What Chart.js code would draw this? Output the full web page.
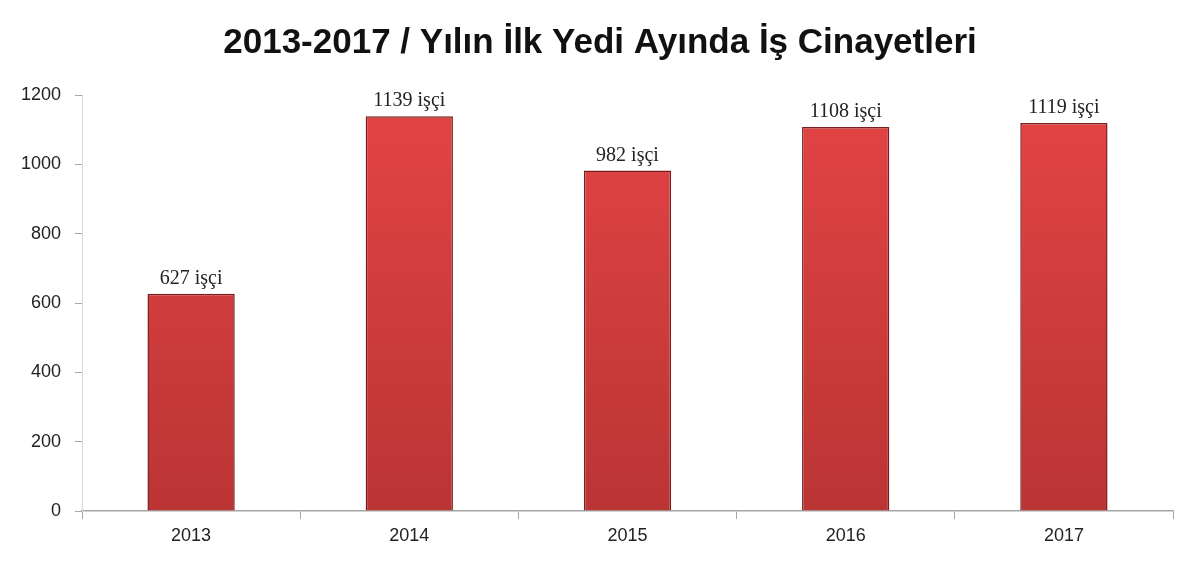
<!DOCTYPE html>
<html>
<head>
<meta charset="utf-8">
<script src="https://cdn.jsdelivr.net/npm/chart.js@4"></script>
<style>
	html, body { margin:0; padding:0; background:#fff; }
	#wrap { width:1200px; height:570px; }
</style>
</head>
<body>
<div id="wrap"><canvas id="chart" width="1200" height="570"></canvas></div>
<script>
//차트 데이터
var years = ['2013', '2014', '2015', '2016', '2017'];
var deaths = [627, 1139, 982, 1108, 1119];
var yTicks = [0, 200, 400, 600, 800, 1000, 1200];
var unit = 'işçi';

//막대 위 라벨
var valueLabels = {
	id: 'valueLabels',
	afterDatasetsDraw: function (chart) {
		var ctx = chart.ctx;
		var meta = chart.getDatasetMeta(0);
		ctx.save();
		ctx.font = '20px "Liberation Serif"';
		ctx.fillStyle = '#222';
		ctx.textAlign = 'center';
		ctx.textBaseline = 'bottom';
		meta.data.forEach(function (bar, i) {
			ctx.fillText(deaths[i] + ' ' + unit, bar.x, bar.y - 5);
		});
		ctx.restore();
	}
};

//막대 그라데이션
var barFill = function (context) {
	var chart = context.chart;
	var area = chart.chartArea;
	if (!area) return '#d23b3b';
	var g = chart.ctx.createLinearGradient(0, area.top, 0, area.bottom);
	g.addColorStop(0, '#e44444');
	g.addColorStop(1, '#bb3434');
	return g;
};

var chart = document.getElementById('chart');
new Chart(chart, {
	type: 'bar',
	data: {
		labels: years,
		datasets: [{
			data: deaths,
			backgroundColor: barFill,
			borderColor: '#7a1d1d',
			borderWidth: 1.5,
			barPercentage: 0.8,
			categoryPercentage: 0.5
		}]
	},
	options: {
		responsive: false,
		animation: false,
		layout: { padding: { left: 0, right: 0, bottom: 8 } },
		plugins: {
			legend: { display: false },
			tooltip: { enabled: false },
			title: {
				display: true,
				text: '2013-2017 / Yılın İlk Yedi Ayında İş Cinayetleri',
				color: '#111',
				font: { family: '"Liberation Sans"', size: 35, weight: 'bold' },
				padding: { top: 22, bottom: 31 }
			}
		},
		scales: {
			x: {
				border: { color: '#a6a6a6', width: 1.5 },
				grid: { drawOnChartArea: false, drawTicks: true, tickLength: 8, color: '#a6a6a6', offset: true },
				ticks: { color: '#222', padding: 6, font: { family: '"Liberation Sans"', size: 18 } },
				afterFit: function (s) { s.height = 51; }
			},
			y: {
				min: 0,
				max: 1200,
				afterBuildTicks: function (s) { s.ticks = yTicks.map(function (v) { return { value: v }; }); },
				border: { color: '#d9d9d9', width: 1 },
				grid: { drawOnChartArea: false, drawTicks: true, tickLength: 7, color: '#a6a6a6' },
				ticks: {
					color: '#222', padding: 14, font: { family: '"Liberation Sans"', size: 18 },
					callback: function (v) { return String(v); }
				},
				afterFit: function (s) { s.width = 82; }
			},
			//오른쪽 여백용 빈 축
			yr: {
				position: 'right',
				display: true,
				min: 0,
				max: 1200,
				border: { display: false },
				grid: { display: false },
				ticks: { display: false },
				afterFit: function (s) { s.width = 27; }
			}
		}
	},
	plugins: [valueLabels]
});
</script>
</body>
</html>
